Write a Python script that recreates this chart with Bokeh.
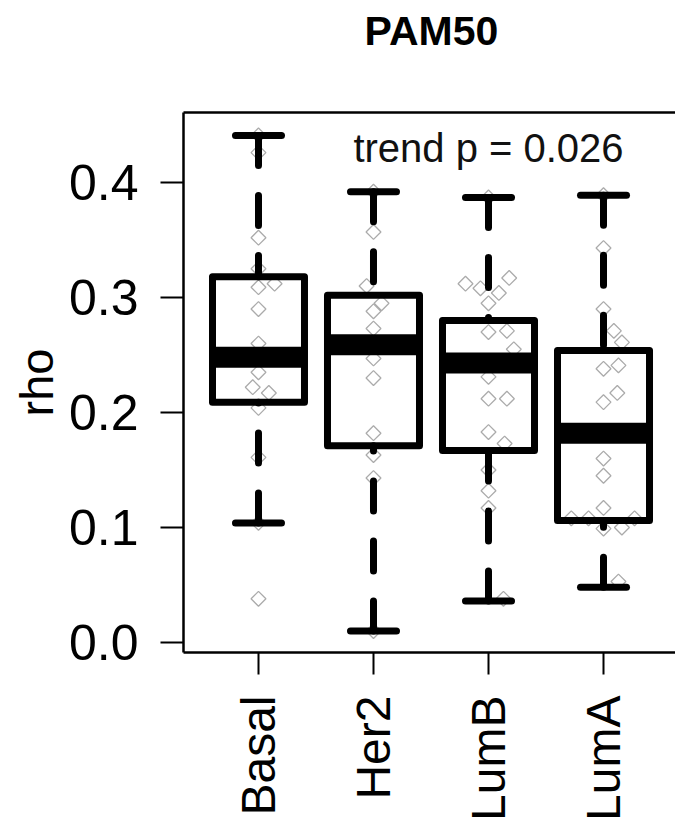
import numpy as np
from bokeh.plotting import figure
from bokeh.layouts import column
from bokeh.models import Range1d, FixedTicker, LinearAxis, PrintfTickFormatter
from bokeh.core.properties import value
from bokeh.embed import file_html
from bokeh.resources import INLINE

# ---- data ----
categories = ["Basal", "Her2", "LumB", "LumA"]
whisker_low = [0.104, 0.010, 0.036, 0.048]
q1 = [0.209, 0.171, 0.167, 0.106]
median = [0.248, 0.259, 0.243, 0.182]
q3 = [0.318, 0.302, 0.280, 0.254]
whisker_high = [0.441, 0.392, 0.387, 0.389]

basal_rho = [0.441, 0.426, 0.352, 0.325, 0.312, 0.309, 0.290, 0.260, 0.235,
             0.222, 0.217, 0.204, 0.161, 0.104, 0.038]
basal_jitter = [0, 0, 0, 0, 0.14, 0, 0, 0, 0, -0.05, 0.09, 0, 0, 0, 0]

her2_rho = [0.392, 0.357, 0.310, 0.295, 0.288, 0.273, 0.247, 0.230, 0.182,
            0.163, 0.143, 0.010]
her2_jitter = [0, 0, -0.06, 0.07, 0, 0, 0, 0, 0, 0, 0, 0]

lumb_rho = [0.387, 0.317, 0.312, 0.308, 0.304, 0.295, 0.270, 0.271, 0.255,
            0.231, 0.212, 0.212, 0.183, 0.173, 0.150, 0.132, 0.117, 0.038]
lumb_jitter = [0, 0.18, -0.20, -0.07, 0.09, 0, 0, 0.16, 0.22, 0, 0, 0.16, 0,
               0.14, 0, 0, 0, 0.13]

luma_rho = [0.389, 0.343, 0.290, 0.271, 0.261, 0.241, 0.238, 0.217, 0.209,
            0.160, 0.145, 0.117, 0.108, 0.108, 0.108, 0.099, 0.100, 0.053]
luma_jitter = [0, 0, 0, 0.09, 0.16, 0.13, 0, 0.12, 0, 0, 0, 0, -0.28, -0.13,
               0.27, 0, 0.16, 0.13]

title_text = "PAM50"
y_label = "rho"
annotation = "trend p = 0.026"
y_ticks = [0.0, 0.1, 0.2, 0.3, 0.4]

# ---- layout constants ----
FONT = "Liberation Sans"
pos = np.arange(1, len(categories) + 1)
X0, X1 = 0.348, 4.626          # visible x extent (plot box continues past the window)
XR = 4.66                       # right end of the R plotting region
Y0, Y1 = -0.0087, 0.4609
TITLE_H = 80

# ---- title strip ----
t = figure(width=675, height=TITLE_H, output_backend="svg", toolbar_location=None,
           x_range=Range1d(X0, X1), y_range=Range1d(0, TITLE_H),
           min_border_left=183, min_border_right=0, min_border_top=0,
           min_border_bottom=0)
t.axis.visible = False
t.grid.visible = False
t.outline_line_color = None
t.text(x=[(X0 + XR) / 2], y=[TITLE_H - 30], text=[title_text],
       text_font=value(FONT), text_font_size="41px", text_font_style="bold",
       text_align="center", text_baseline="middle", text_color="black")

# ---- main plot ----
p = figure(width=675, height=824 - TITLE_H, output_backend="svg",
           toolbar_location=None,
           x_range=Range1d(X0, X1), y_range=Range1d(Y0, Y1),
           min_border_left=183, min_border_right=0, min_border_top=112 - TITLE_H,
           min_border_bottom=172)
p.outline_line_color = None
p.grid.visible = False
p.background_fill_color = "white"
p.border_fill_color = "white"

xa = p.xaxis[0]
xa.ticker = FixedTicker(ticks=list(pos))
xa.major_label_overrides = {int(i): c for i, c in zip(pos, categories)}
xa.major_label_orientation = np.pi / 2
xa.major_label_text_font = FONT
xa.major_label_text_font_size = "48px"
xa.major_label_text_color = "black"
xa.major_label_standoff = 21
xa.major_tick_out = 22
xa.major_tick_in = 0
xa.minor_tick_line_color = None
xa.axis_line_width = 2.5
xa.major_tick_line_width = 2

ya = p.yaxis[0]
ya.ticker = FixedTicker(ticks=y_ticks)
ya.formatter = PrintfTickFormatter(format="%.1f")
ya.major_label_text_font = FONT
ya.major_label_text_font_size = "50px"
ya.major_label_text_color = "black"
ya.major_label_standoff = 22
ya.major_tick_out = 23
ya.major_tick_in = 0
ya.minor_tick_line_color = None
ya.axis_line_width = 2.5
ya.major_tick_line_width = 2
ya.axis_label = y_label
ya.axis_label_text_font = FONT
ya.axis_label_text_font_size = "47px"
ya.axis_label_text_font_style = "normal"
ya.axis_label_text_color = "black"
ya.axis_label_standoff = 3

top_axis = LinearAxis(ticker=FixedTicker(ticks=[]), major_label_text_font_size="0px",
                      major_tick_out=0, major_tick_in=0, minor_tick_line_color=None,
                      axis_line_width=2.5)
p.add_layout(top_axis, "above")

# points (drawn first, behind the boxes)
groups = [(basal_rho, basal_jitter), (her2_rho, her2_jitter),
          (lumb_rho, lumb_jitter), (luma_rho, luma_jitter)]
px, py = [], []
for i, (vals, jit) in enumerate(groups):
    px += [pos[i] + j for j in jit]
    py += vals
p.scatter(x=px, y=py, marker="square", size=10.5, angle=np.pi / 4,
          fill_color=None, line_color="#ababab", line_width=1.3)

# whiskers (dashed, starting at whisker end)
p.segment(x0=pos, y0=whisker_high, x1=pos, y1=q3, line_color="black",
          line_width=7, line_dash="30 30", line_cap="round")
p.segment(x0=pos, y0=whisker_low, x1=pos, y1=q1, line_color="black",
          line_width=7, line_dash="30 30", line_cap="round")
# staples
p.segment(x0=pos - 0.2, y0=whisker_high, x1=pos + 0.2, y1=whisker_high,
          line_color="black", line_width=7, line_cap="round")
p.segment(x0=pos - 0.2, y0=whisker_low, x1=pos + 0.2, y1=whisker_low,
          line_color="black", line_width=7, line_cap="round")
# boxes
p.quad(left=pos - 0.4, right=pos + 0.4, bottom=q1, top=q3, fill_color=None,
       line_color="black", line_width=7, line_join="round")
# medians
p.segment(x0=pos - 0.4, y0=median, x1=pos + 0.4, y1=median,
          line_color="black", line_width=21, line_cap="butt")

# annotation
p.text(x=[3], y=[0.43], text=[annotation], text_font=value(FONT),
       text_font_size="40px", text_align="center", text_baseline="middle",
       text_color="#111111")

layout = column(t, p, spacing=0)
open("out.html", "w").write(file_html(layout, INLINE))
